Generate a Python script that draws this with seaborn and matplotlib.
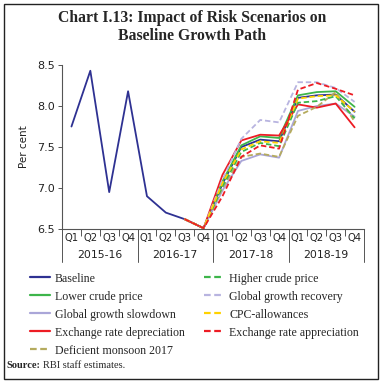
import matplotlib
matplotlib.use("Agg")
import matplotlib.pyplot as plt
from matplotlib.patches import Rectangle
import seaborn as sns

years = ["2015-16", "2016-17", "2017-18", "2018-19"]
quarters = ["Q1", "Q2", "Q3", "Q4"] * 4

baseline = [7.75, 8.43, 6.95, 8.18, 6.90, 6.70, 6.62, 6.51,
            7.05, 7.50, 7.59, 7.57, 8.10, 8.13, 8.14, 7.93]

# scenario paths start at 2016-17 Q3 (index 6)
scen_start = 6
lower_crude = [6.62, 6.51, 7.08, 7.52, 7.63, 7.61, 8.13, 8.17, 8.18, 7.99]
global_slowdown = [6.62, 6.51, 6.97, 7.33, 7.41, 7.37, 7.94, 8.00, 8.03, 7.87]
exch_depreciation = [6.62, 6.51, 7.16, 7.58, 7.65, 7.64, 8.02, 7.98, 8.03, 7.74]
deficient_monsoon = [6.62, 6.51, 7.00, 7.38, 7.42, 7.38, 7.88, 7.99, 8.17, 7.81]
higher_crude = [6.62, 6.51, 7.02, 7.44, 7.55, 7.51, 8.04, 8.06, 8.12, 7.85]
global_recovery = [6.62, 6.51, 7.10, 7.60, 7.83, 7.80, 8.29, 8.29, 8.22, 8.05]
cpc_allowances = [6.62, 6.51, 7.06, 7.47, 7.57, 7.55, 8.09, 8.12, 8.13, 7.93]
exch_appreciation = [6.62, 6.51, 6.90, 7.38, 7.52, 7.48, 8.20, 8.28, 8.21, 8.13]

series = [
    ("Baseline", baseline, "#2e3192", "-"),
    ("Lower crude price", lower_crude, "#3db54a", "-"),
    ("Global growth slowdown", global_slowdown, "#aaa6d8", "-"),
    ("Exchange rate depreciation", exch_depreciation, "#ed1c24", "-"),
    ("Deficient monsoon 2017", deficient_monsoon, "#b5ab5e", "--"),
    ("Higher crude price", higher_crude, "#3db54a", "--"),
    ("Global growth recovery", global_recovery, "#b8b4e0", "--"),
    ("CPC-allowances", cpc_allowances, "#ffd200", "--"),
    ("Exchange rate appreciation", exch_appreciation, "#ed1c24", "--"),
]

sns.set_style("ticks")
plt.rcParams["font.family"] = ["DejaVu Sans"]

fig = plt.figure(figsize=(3.84, 3.84), dpi=100)
ax = fig.add_axes([0.1615, 0.4036, 0.7865, 0.4271])

for name, vals, col, ls in series:
    start = 0 if len(vals) == 16 else scen_start
    xs = list(range(start, start + len(vals)))
    sns.lineplot(x=xs, y=vals, ax=ax, color=col, linewidth=1.3, label=name,
                 linestyle=ls, dashes=False)
for line in ax.get_lines():
    if line.get_linestyle() == "--":
        line.set_dashes((3, 1.6))

ax.set_xlim(-0.5, 15.5)
ax.set_ylim(6.5, 8.5)
ax.set_yticks([6.5, 7.0, 7.5, 8.0, 8.5])
ax.set_yticklabels(["6.5", "7.0", "7.5", "8.0", "8.5"], fontsize=8, color="#222222")
ax.set_ylabel("Per cent", fontsize=7.5, color="#222222", labelpad=6)
ax.set_xticks(range(16))
ax.set_xticklabels(quarters, fontsize=7.2, color="#222222")
ax.set_xticks([i - 0.5 for i in range(17)], minor=True)
ax.tick_params(axis="x", which="major", length=0, pad=3)
ax.tick_params(axis="x", which="minor", length=5, width=0.7, color="#555555")
ax.tick_params(axis="y", length=3, width=0.7, color="#555555", pad=2)
for s in ["top", "right"]:
    ax.spines[s].set_visible(False)
for s in ["left", "bottom"]:
    ax.spines[s].set_color("#555555")
    ax.spines[s].set_linewidth(0.8)

for k in range(5):
    ax.axvline(4 * k - 0.5, ymin=-0.2, ymax=0, clip_on=False, color="#555555", lw=0.7)
for k, yr in enumerate(years):
    ax.text(4 * k + 1.5, -0.16, yr, transform=ax.get_xaxis_transform(),
            ha="center", va="center", fontsize=7.8, color="#222222")

handles, labels = ax.get_legend_handles_labels()
leg = ax.legend(handles, labels, ncol=2, loc="upper left", bbox_to_anchor=(0.078, 0.29),
                bbox_transform=fig.transFigure, frameon=False,
                prop={"family": "Liberation Serif", "size": 8.6},
                handlelength=1.65, handletextpad=0.45, labelspacing=0.5,
                columnspacing=1.6, borderpad=0, borderaxespad=0)
for h in leg.get_lines():
    h.set_linewidth(1.6)

fig.text(0.5, 0.953, "Chart I.13: Impact of Risk Scenarios on", ha="center", va="center",
         fontsize=11.3, fontweight="bold", family="Liberation Serif")
fig.text(0.5, 0.907, "Baseline Growth Path", ha="center", va="center",
         fontsize=11.3, fontweight="bold", family="Liberation Serif")
src = fig.text(0.016, 0.047, "Source:", ha="left", va="center", fontsize=7.5,
               fontweight="bold", family="Liberation Serif")
fig.canvas.draw()
bb = src.get_window_extent().transformed(fig.transFigure.inverted())
fig.text(bb.x1 + 0.008, 0.047, "RBI staff estimates.", ha="left", va="center",
         fontsize=7.5, family="Liberation Serif")

fig.patches.append(Rectangle((0.0104, 0.013), 0.974, 0.977, transform=fig.transFigure,
                             fill=False, lw=1, edgecolor="#222222"))

fig.savefig("out.png", dpi=100)
